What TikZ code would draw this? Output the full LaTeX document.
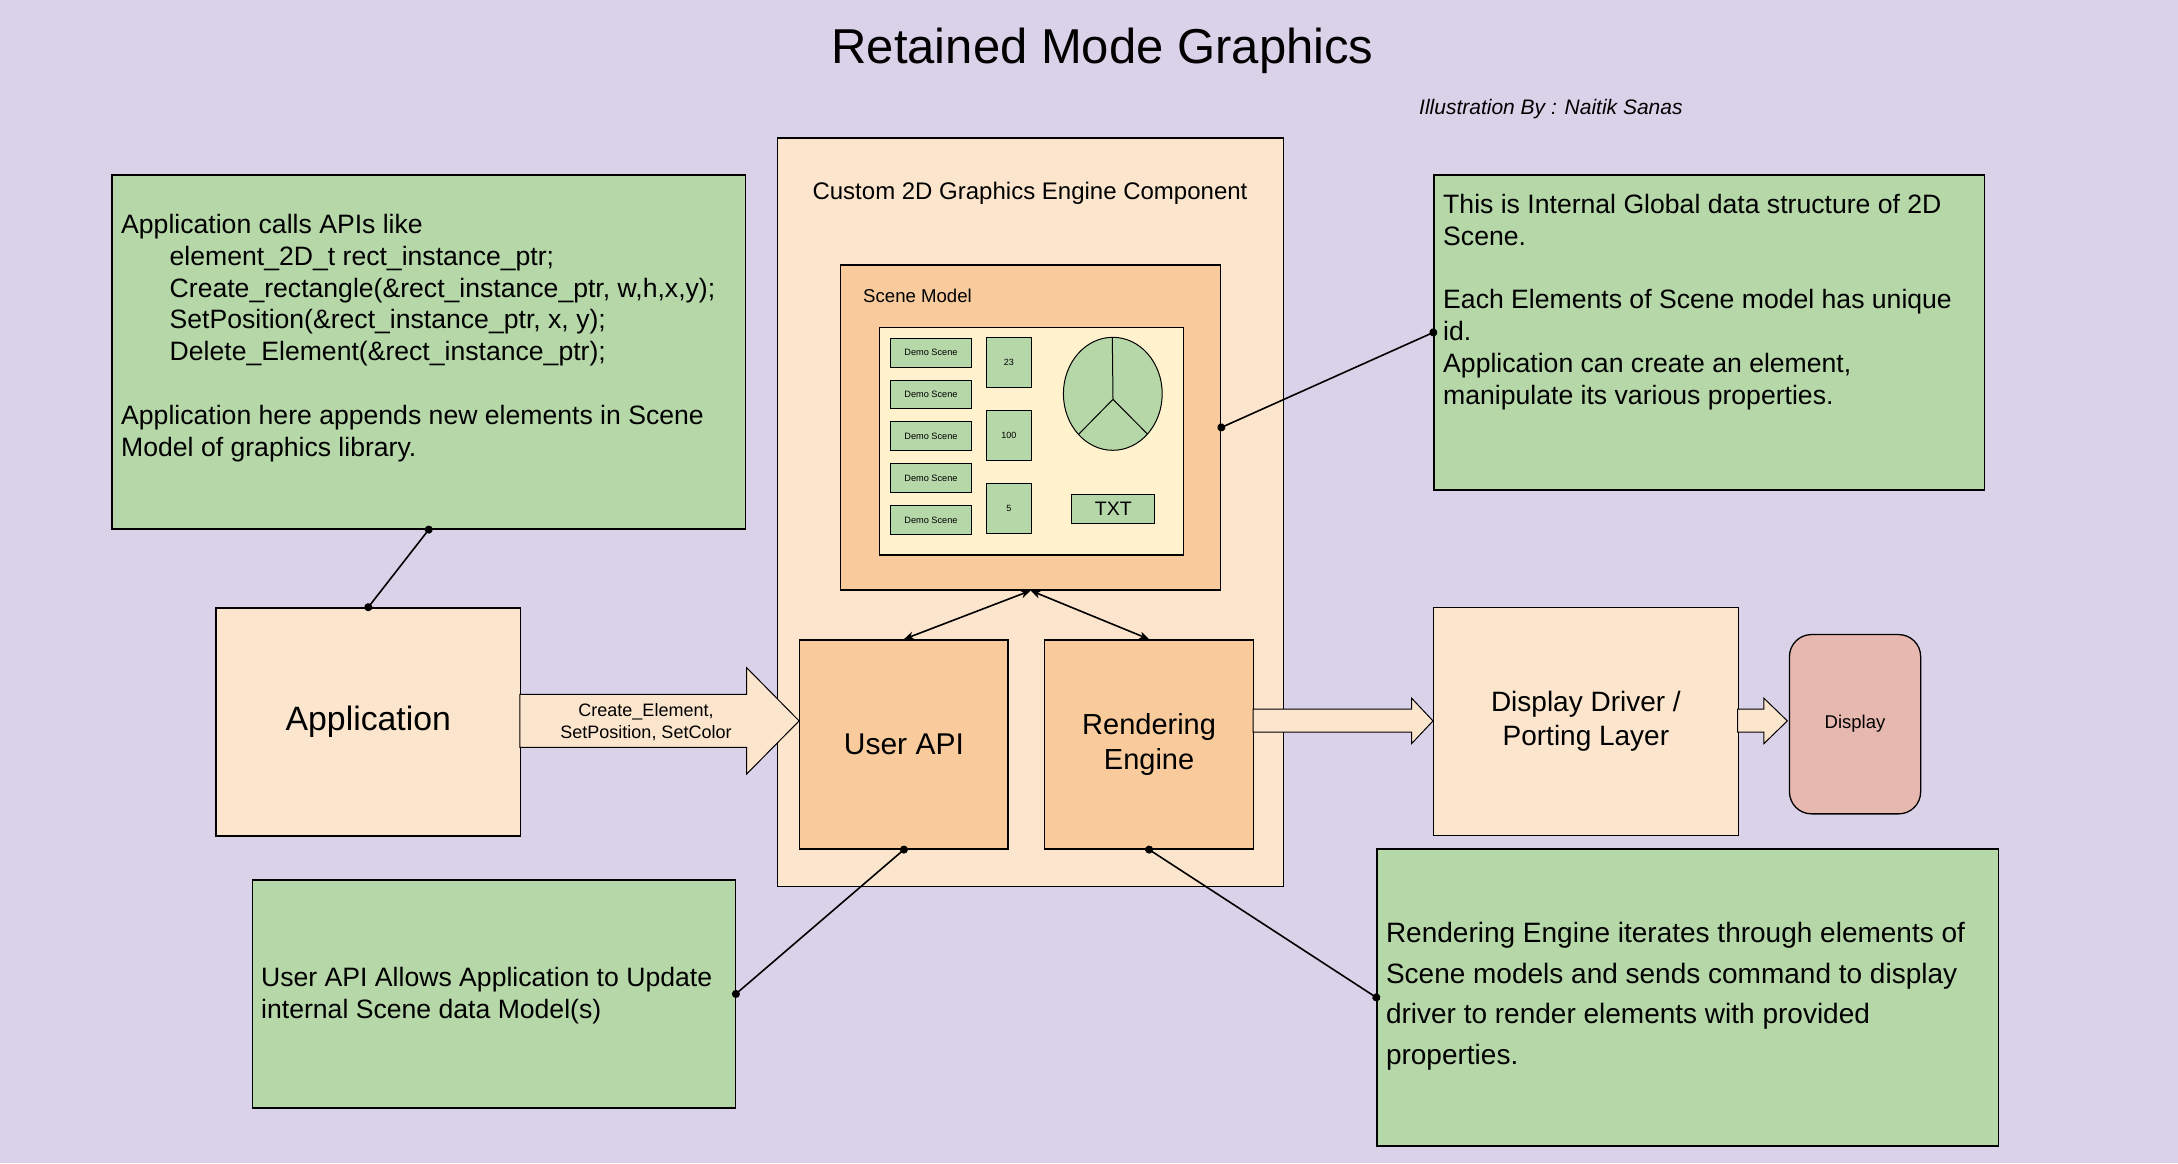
\documentclass[tikz,border=0pt]{standalone}
\usepackage{fontspec}
\setmainfont{Liberation Sans}
\usetikzlibrary{arrows.meta,calc}
\definecolor{bgc}{HTML}{D9D2E9}
\definecolor{greenc}{HTML}{B6D7A8}
\definecolor{peachc}{HTML}{FCE5CD}
\definecolor{orangec}{HTML}{F9CB9C}
\definecolor{yellowc}{HTML}{FFF2CC}
\definecolor{pinkc}{HTML}{E6B8AF}
\newcommand\fs[2]{\fontsize{#1pt}{#2pt}\selectfont}
\begin{document}
\begin{tikzpicture}[x=1pt,y=-1pt,
  box/.style={draw=black, line width=1.3pt, inner sep=0pt, anchor=north west},
  smallbox/.style={box, line width=1pt, fill=greenc},
  notebox/.style={box, fill=greenc},
  notetext/.style={anchor=north west, inner sep=0pt, align=left, font=\fs{26.6}{31.8}},
  dotline/.style={draw=black, line width=1.6pt, {Circle[length=8pt]}-{Circle[length=8pt]}, shorten <=-4pt, shorten >=-4pt},
  dblarrow/.style={draw=black, line width=1.6pt, {Stealth[length=10pt,width=8pt,inset=3pt]}-{Stealth[length=10pt,width=8pt,inset=3pt]}},
  blockarrow/.style={draw=black, line width=1pt, fill=peachc, line join=miter},
]
\fill[bgc] (0,0) rectangle (2178,1163);
\useasboundingbox (0,0) rectangle (2178,1163);

% titles
\node[anchor=base, inner sep=0pt, font=\fs{49}{58}] (title) at (1102.5,63.3) {Retained Mode Graphics};
\node[anchor=base west, inner sep=0pt, font=\fs{21}{25}\itshape] (credit) at (1419,114.3) {Illustration By : Naitik Sanas};

% engine component
\node[box, fill=peachc, minimum width=506pt, minimum height=748.7pt] (engine) at (777,137.3) {};
\node[anchor=base, inner sep=0pt, font=\fs{24}{29}] (enginelabel) at (1030,199) {Custom 2D Graphics Engine Component};
\node[box, fill=orangec, minimum width=380pt, minimum height=325pt] (scene) at (840,264.3) {};
\node[anchor=base west, inner sep=0pt, font=\fs{18.6}{22}] (scenelabel) at (863,302.7) {Scene Model};
\node[box, fill=yellowc, minimum width=304pt, minimum height=227.6pt] (canvas) at (878.5,326.7) {};
\foreach \i/\yy in {1/337.7,2/379.5,3/421.3,4/463.3,5/505.3}
  \node[smallbox, minimum width=81.9pt, minimum height=28.8pt, font=\fs{9.2}{11}] (demo\i) at (889.5,\yy) {Demo Scene};
\foreach \i/\yy/\t in {1/337.3/23,2/410.3/100,3/483.3/5}
  \node[smallbox, minimum width=44.5pt, minimum height=50pt, font=\fs{9}{11}] (num\i) at (986.2,\yy) {\t};
\filldraw[fill=greenc, draw=black, line width=1pt] (1112.8,393.8) ellipse [x radius=49.4, y radius=56.5];
\draw[line width=1pt] (1112.3,337.3) -- (1113,399.3) -- (1078.9,434) (1113,399.3) -- (1147.4,434);
\node[smallbox, minimum width=83pt, minimum height=29.6pt, font=\fs{19.5}{23}] (txt) at (1071.3,493.7) {TXT};

\node[box, fill=orangec, minimum width=208.3pt, minimum height=209.1pt, font=\fs{30}{36}] (userapi) at (799.1,639.2) {User API};
\node[box, fill=orangec, minimum width=209.1pt, minimum height=209.1pt, font=\fs{29}{34.5}, align=center] (render) at (1043.9,639.2) {Rendering\\Engine};

% application
\node[box, fill=peachc, minimum width=304.5pt, minimum height=228pt, font=\fs{33.8}{40}] (app) at (215.4,607.2) {Application};

% driver and display
\node[box, fill=peachc, minimum width=304.5pt, minimum height=227.5pt, font=\fs{28}{34}, align=center] (driver) at (1433,607.1) {Display Driver /\\Porting Layer};
\node[box, fill=pinkc, rounded corners=22pt, minimum width=131.2pt, minimum height=179.3pt, font=\fs{18.5}{22}] (display) at (1788.8,633.9) {Display};

% block arrows
\draw[blockarrow] (519.9,694.3) -- (746.5,694.3) -- (746.5,667.5) -- (799.1,720.9) -- (746.5,774.2) -- (746.5,747.4) -- (519.9,747.4) -- cycle;
\node[inner sep=0pt, font=\fs{18}{21.4}, align=center] (a1label) at (646,722) {Create\_Element,\\SetPosition, SetColor};
\draw[blockarrow] (1253,709) -- (1411.6,709) -- (1411.6,698.2) -- (1433,720.9) -- (1411.6,743.6) -- (1411.6,732.1) -- (1253,732.1) -- cycle;
\draw[blockarrow] (1737.5,709) -- (1763.9,709) -- (1763.9,698.2) -- (1787.3,720.9) -- (1763.9,743.6) -- (1763.9,732.1) -- (1737.5,732.1) -- cycle;

% notes
\node[notebox, minimum width=633.4pt, minimum height=354pt] (note1) at (111.4,174.3) {};
\node[notetext] (note1text) at (121,213.2) {\rule{0pt}{20pt}Application calls APIs like\\
\hspace*{48.5pt}element\_2D\_t rect\_instance\_ptr;\\
\hspace*{48.5pt}Create\_rectangle(\&rect\_instance\_ptr, w,h,x,y);\\
\hspace*{48.5pt}SetPosition(\&rect\_instance\_ptr, x, y);\\
\hspace*{48.5pt}Delete\_Element(\&rect\_instance\_ptr);\\[31.8pt]
Application here appends new elements in Scene\\
Model of graphics library.};

\node[notebox, minimum width=482.7pt, minimum height=227.9pt] (note2) at (251.9,879.3) {};
\node[notetext] (note2text) at (261,966.5) {\rule{0pt}{20pt}User API Allows Application to Update\\internal Scene data Model(s)};

\node[notebox, minimum width=550.5pt, minimum height=315pt] (note3) at (1433.3,174.3) {};
\node[notetext] (note3text) at (1443,193.2) {\rule{0pt}{20pt}This is Internal Global data structure of 2D\\
Scene.\\[31.8pt]
Each Elements of Scene model has unique\\
id.\\
Application can create an element,\\
manipulate its various properties.};

\node[notebox, minimum width=621.4pt, minimum height=297.2pt] (note4) at (1376.3,848.2) {};
\node[notetext, font=\fs{28}{40.5}] (note4text) at (1385.8,920.3) {\rule{0pt}{22pt}Rendering Engine iterates through elements of\\
Scene models and sends command to display\\
driver to render elements with provided\\
properties.};

% connectors
\draw[dblarrow] (scene.south) -- (userapi.north);
\draw[dblarrow] (scene.south) -- (render.north);
\draw[dotline] (note1.south) -- (app.north);
\draw[dotline] (scene.east) -- (note3.west);
\draw[dotline] (userapi.south) -- (note2.east);
\draw[dotline] (render.south) -- (note4.west);
\end{tikzpicture}
\end{document}
